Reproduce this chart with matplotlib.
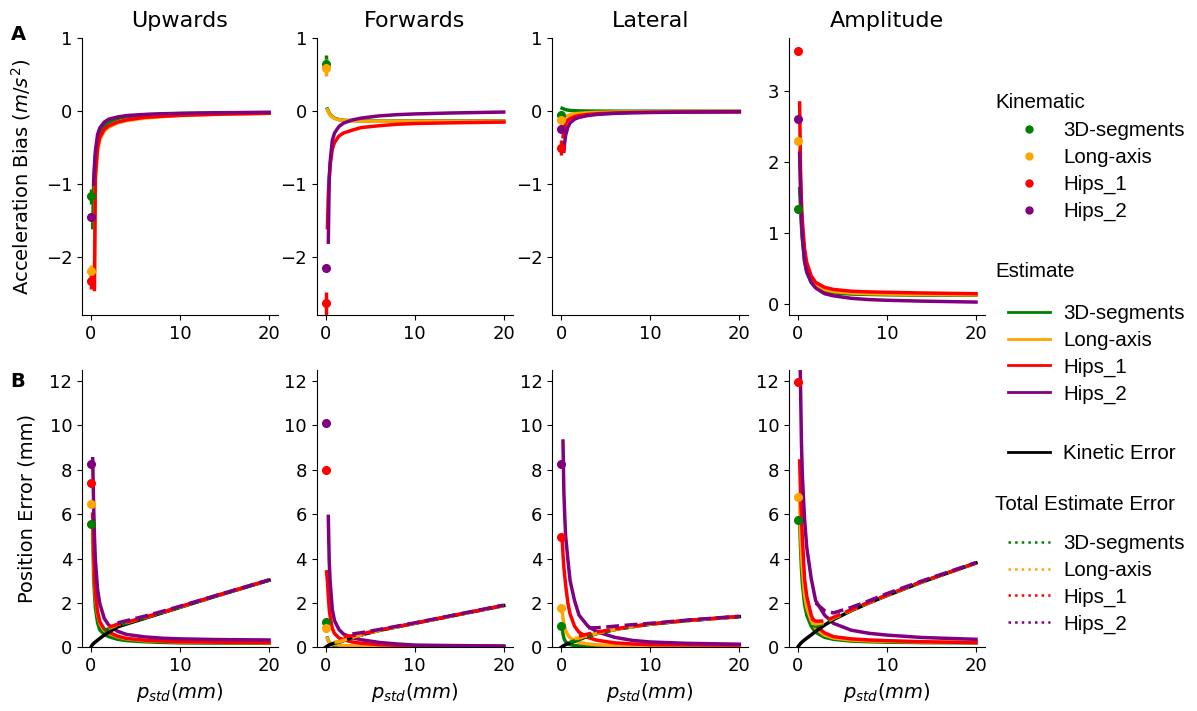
import matplotlib.pyplot as plt
from matplotlib.lines import Line2D
import numpy as np

nan = np.nan

directions = ["Upwards", "Forwards", "Lateral", "Amplitude"]
models = ["3D-segments", "Long-axis", "Hips_1", "Hips_2"]
colors = ["green", "orange", "red", "purple"]

# p_std grid (mm) on which the curves were read
x_grid = [0, 0.1, 0.2, 0.3, 0.4, 0.5, 0.75, 1, 1.5, 2, 3, 4, 6, 8, 10, 14, 20]

# ---- row A: acceleration bias (m/s^2), rows = 3D-segments, Long-axis, Hips_1, Hips_2
bias_up = [
    [nan, nan, -1.6, -1.05, -0.8, -0.62, -0.4, -0.3, -0.2, -0.15, -0.1, -0.075, -0.05, -0.04, -0.032, -0.025, -0.02],
    [nan, nan, nan, nan, -2.2, -0.95, -0.54, -0.39, -0.27, -0.22, -0.16, -0.13, -0.095, -0.075, -0.06, -0.045, -0.03],
    [nan, nan, nan, nan, -2.45, -0.9, -0.5, -0.36, -0.25, -0.2, -0.15, -0.12, -0.085, -0.07, -0.057, -0.042, -0.028],
    [nan, nan, nan, -1.0, -0.75, -0.55, -0.32, -0.23, -0.15, -0.11, -0.08, -0.06, -0.045, -0.035, -0.03, -0.022, -0.015],
]
bias_fw = [
    [nan, nan, 0.03, 0.0, -0.025, -0.045, -0.075, -0.095, -0.115, -0.125, -0.13, -0.133, -0.135, -0.135, -0.135, -0.135, -0.135],
    [nan, nan, 0.02, -0.01, -0.035, -0.055, -0.08, -0.1, -0.118, -0.127, -0.133, -0.136, -0.138, -0.139, -0.14, -0.14, -0.14],
    [nan, nan, -1.6, -1.15, -0.92, -0.75, -0.52, -0.43, -0.34, -0.3, -0.26, -0.225, -0.2, -0.18, -0.17, -0.16, -0.15],
    [nan, nan, nan, -1.8, -0.95, -0.7, -0.4, -0.3, -0.21, -0.165, -0.12, -0.095, -0.065, -0.048, -0.038, -0.025, -0.012],
]
bias_lat = [
    [nan, 0.04, 0.035, 0.03, 0.025, 0.02, 0.015, 0.01, 0.006, 0.004, 0.002, 0.001, 0.0, 0.0, 0.0, 0.0, 0.0],
    [nan, -0.15, -0.12, -0.1, -0.085, -0.075, -0.06, -0.05, -0.037, -0.03, -0.022, -0.017, -0.012, -0.009, -0.007, -0.005, -0.004],
    [nan, nan, -0.35, -0.26, -0.21, -0.17, -0.12, -0.1, -0.075, -0.06, -0.045, -0.035, -0.025, -0.018, -0.015, -0.01, -0.007],
    [nan, nan, nan, -0.55, -0.42, -0.33, -0.22, -0.16, -0.11, -0.085, -0.06, -0.045, -0.03, -0.022, -0.018, -0.013, -0.01],
]
bias_amp = [
    [nan, nan, 1.62, 1.35, 1.1, 0.92, 0.6, 0.44, 0.3, 0.23, 0.17, 0.15, 0.135, 0.13, 0.125, 0.12, 0.12],
    [nan, nan, 2.15, 1.7, 1.3, 1.05, 0.7, 0.5, 0.34, 0.27, 0.2, 0.17, 0.15, 0.14, 0.135, 0.13, 0.125],
    [nan, nan, 2.83, 1.9, 1.45, 1.18, 0.78, 0.58, 0.39, 0.3, 0.23, 0.2, 0.175, 0.165, 0.16, 0.15, 0.14],
    [nan, nan, 2.12, 1.6, 1.2, 0.95, 0.6, 0.45, 0.3, 0.22, 0.14, 0.11, 0.075, 0.057, 0.047, 0.035, 0.022],
]

# kinematic values at p_std = 0 (mean, error)
kin_bias_up = [-1.17, -2.2, -2.33, -1.46]
kin_bias_up_err = [0.1, 0.08, 0.12, 0.04]
kin_bias_fw = [0.655, 0.6, -2.64, -2.15]
kin_bias_fw_err = [0.12, 0.12, 0.16, 0.03]
kin_bias_lat = [-0.055, -0.12, -0.5, -0.25]
kin_bias_lat_err = [0.05, 0.05, 0.1, 0.04]
kin_bias_amp = [1.34, 2.29, 3.56, 2.61]
kin_bias_amp_err = [0.02, 0.02, 0.02, 0.02]

# ---- row B: position error (mm)
pos_up = [
    [nan, nan, 5.5, 3.3, 2.4, 1.8, 1.1, 0.78, 0.58, 0.48, 0.36, 0.3, 0.25, 0.22, 0.2, 0.19, 0.18],
    [nan, nan, 5.6, 4.0, 3.0, 2.3, 1.5, 1.08, 0.77, 0.64, 0.47, 0.38, 0.3, 0.27, 0.24, 0.22, 0.2],
    [nan, nan, 6.0, 4.3, 3.2, 2.44, 1.6, 1.15, 0.82, 0.68, 0.5, 0.4, 0.32, 0.28, 0.25, 0.23, 0.21],
    [nan, nan, 8.5, 6.5, 5.0, 3.95, 2.6, 1.97, 1.3, 1.0, 0.72, 0.58, 0.47, 0.41, 0.38, 0.35, 0.33],
]
pos_fw = [
    [nan, nan, 0.42, 0.3, 0.22, 0.17, 0.11, 0.08, 0.06, 0.05, 0.04, 0.035, 0.03, 0.027, 0.025, 0.022, 0.02],
    [nan, nan, 0.4, 0.3, 0.24, 0.2, 0.15, 0.13, 0.1, 0.08, 0.06, 0.05, 0.04, 0.036, 0.033, 0.03, 0.03],
    [nan, 3.4, 3.0, 2.3, 1.75, 1.4, 0.85, 0.62, 0.42, 0.34, 0.24, 0.18, 0.12, 0.09, 0.07, 0.05, 0.04],
    [nan, nan, nan, 5.9, 3.9, 3.0, 1.7, 1.2, 0.8, 0.6, 0.43, 0.34, 0.22, 0.15, 0.1, 0.08, 0.06],
]
pos_lat = [
    [nan, 0.95, 0.6, 0.42, 0.32, 0.25, 0.17, 0.12, 0.08, 0.06, 0.045, 0.04, 0.035, 0.033, 0.032, 0.03, 0.03],
    [nan, 1.7, 1.3, 1.05, 0.9, 0.75, 0.55, 0.43, 0.3, 0.22, 0.15, 0.11, 0.08, 0.07, 0.06, 0.055, 0.05],
    [nan, 4.95, 4.2, 3.6, 3.2, 2.8, 2.0, 1.5, 0.95, 0.68, 0.44, 0.32, 0.2, 0.15, 0.12, 0.11, 0.1],
    [nan, nan, 9.3, 7.0, 5.9, 5.0, 3.95, 3.0, 2.1, 1.45, 0.95, 0.7, 0.45, 0.31, 0.24, 0.18, 0.14],
]
pos_amp = [
    [nan, nan, 5.7, 4.5, 3.6, 2.9, 1.95, 1.45, 0.95, 0.68, 0.45, 0.36, 0.28, 0.25, 0.23, 0.21, 0.2],
    [nan, nan, 6.6, 5.3, 4.3, 3.6, 2.4, 1.8, 1.2, 0.85, 0.55, 0.42, 0.33, 0.29, 0.27, 0.24, 0.22],
    [nan, nan, 8.4, 7.0, 5.9, 5.0, 3.1, 2.3, 1.45, 0.98, 0.65, 0.48, 0.38, 0.33, 0.3, 0.25, 0.21],
    [nan, nan, 14.0, 11.8, 9.3, 7.8, 5.8, 4.5, 3.1, 2.1, 1.45, 1.08, 0.77, 0.63, 0.55, 0.44, 0.36],
]

# kinetic error (mm)
kinetic_up = [0, 0.08, 0.13, 0.17, 0.21, 0.24, 0.32, 0.4, 0.55, 0.68, 0.92, 1.05, 1.3, 1.55, 1.8, 2.3, 3.02]
kinetic_fw = [0, 0.03, 0.06, 0.08, 0.1, 0.12, 0.16, 0.19, 0.23, 0.3, 0.44, 0.56, 0.76, 0.92, 1.08, 1.4, 1.88]
kinetic_lat = [0, 0.03, 0.06, 0.08, 0.1, 0.12, 0.16, 0.2, 0.27, 0.35, 0.5, 0.62, 0.8, 0.93, 1.04, 1.2, 1.38]
kinetic_amp = [0, 0.07, 0.12, 0.17, 0.21, 0.25, 0.33, 0.41, 0.56, 0.72, 1.0, 1.25, 1.65, 2.0, 2.33, 2.95, 3.8]

# total estimate error (mm)
total_up = [
    [nan, nan, nan, nan, nan, nan, nan, nan, 0.78, 0.83, 0.99, 1.09, 1.33, 1.57, 1.81, 2.31, 3.03],
    [nan, nan, nan, nan, nan, nan, nan, nan, nan, 0.86, 1.03, 1.12, 1.34, 1.58, 1.82, 2.32, 3.03],
    [nan, nan, nan, nan, nan, nan, nan, nan, nan, 0.9, 1.04, 1.13, 1.35, 1.58, 1.83, 2.32, 3.03],
    [nan, nan, nan, nan, nan, nan, nan, nan, nan, nan, 1.1, 1.2, 1.4, 1.62, 1.85, 2.33, 3.04],
]
total_fw = [
    [nan, nan, nan, nan, nan, nan, nan, 0.21, 0.24, 0.3, 0.44, 0.56, 0.76, 0.92, 1.08, 1.4, 1.88],
    [nan, nan, nan, nan, nan, nan, nan, 0.23, 0.25, 0.31, 0.45, 0.56, 0.76, 0.92, 1.08, 1.4, 1.88],
    [nan, nan, nan, nan, nan, nan, nan, nan, nan, 0.48, 0.52, 0.6, 0.78, 0.93, 1.09, 1.41, 1.89],
    [nan, nan, nan, nan, nan, nan, nan, nan, nan, nan, 0.6, 0.66, 0.8, 0.95, 1.1, 1.42, 1.9],
]
total_lat = [
    [nan, nan, nan, nan, nan, nan, nan, 0.23, 0.29, 0.36, 0.5, 0.62, 0.8, 0.93, 1.04, 1.2, 1.38],
    [nan, nan, nan, nan, nan, nan, nan, nan, 0.4, 0.42, 0.52, 0.63, 0.8, 0.93, 1.04, 1.2, 1.38],
    [nan, nan, nan, nan, nan, nan, nan, nan, nan, 0.5, 0.6, 0.68, 0.83, 0.95, 1.05, 1.21, 1.39],
    [nan, nan, nan, nan, nan, nan, nan, nan, nan, nan, 0.88, 0.88, 0.95, 1.02, 1.08, 1.22, 1.4],
]
total_amp = [
    [nan, nan, nan, nan, nan, nan, nan, nan, 1.0, 0.95, 1.08, 1.3, 1.67, 2.02, 2.34, 2.96, 3.8],
    [nan, nan, nan, nan, nan, nan, nan, nan, 1.1, 1.05, 1.12, 1.32, 1.68, 2.02, 2.35, 2.96, 3.8],
    [nan, nan, nan, nan, nan, nan, nan, nan, 1.3, 1.18, 1.18, 1.35, 1.7, 2.04, 2.36, 2.97, 3.8],
    [nan, nan, nan, nan, nan, nan, nan, nan, nan, 2.0, 1.65, 1.55, 1.8, 2.1, 2.42, 3.0, 3.82],
]

kin_pos_up = [5.56, 6.48, 7.41, 8.28]
kin_pos_fw = [1.13, 0.86, 7.97, 10.09]
kin_pos_lat = [0.98, 1.76, 4.95, 8.27]
kin_pos_amp = [5.75, 6.78, 11.96, 13.6]
kin_pos_err = [0.08, 0.08, 0.12, 0.08]

bias_sets = [bias_up, bias_fw, bias_lat, bias_amp]
kin_bias_sets = [(kin_bias_up, kin_bias_up_err), (kin_bias_fw, kin_bias_fw_err),
                 (kin_bias_lat, kin_bias_lat_err), (kin_bias_amp, kin_bias_amp_err)]
pos_sets = [pos_up, pos_fw, pos_lat, pos_amp]
kinetic_sets = [kinetic_up, kinetic_fw, kinetic_lat, kinetic_amp]
total_sets = [total_up, total_fw, total_lat, total_amp]
kin_pos_sets = [kin_pos_up, kin_pos_fw, kin_pos_lat, kin_pos_amp]

plt.rcParams['font.size'] = 13
plt.rcParams['axes.spines.top'] = False
plt.rcParams['axes.spines.right'] = False

fig = plt.figure(figsize=(11.97, 7.11), dpi=100)
lefts = [0.0685, 0.2646, 0.4614, 0.6591]
width = 0.1637
LW = 2.5

for i, name in enumerate(directions):
    # acceleration bias
    ax = fig.add_axes([lefts[i], 0.557, width, 0.389])
    vals, errs = kin_bias_sets[i]
    for j in range(4):
        ax.errorbar(0, vals[j], yerr=errs[j], fmt='o', color=colors[j], ms=5.5, elinewidth=2.5)
    for j in range(4):
        ax.plot(x_grid, bias_sets[i][j], color=colors[j], lw=LW)
    ax.set_title(name, fontsize=16, pad=8)
    ax.set_xlim(-1, 21)
    ax.set_xticks([0, 10, 20])
    if name == "Amplitude":
        ax.set_ylim(-0.16, 3.74)
        ax.set_yticks([0, 1, 2, 3])
    else:
        ax.set_ylim(-2.8, 1.0)
        ax.set_yticks([-2, -1, 0, 1])
    if i == 0:
        ax.set_ylabel('Acceleration Bias ($m/s^2$)', fontsize=14, labelpad=9)

    # position error
    ax = fig.add_axes([lefts[i], 0.0896, width, 0.39])
    for j in range(4):
        ax.errorbar(0, kin_pos_sets[i][j], yerr=kin_pos_err[j], fmt='o', color=colors[j], ms=5.5, elinewidth=2.5)
    for j in range(4):
        ax.plot(x_grid, pos_sets[i][j], color=colors[j], lw=LW)
    ax.plot(x_grid, kinetic_sets[i], color='black', lw=LW)
    for j in range(4):
        ax.plot(x_grid, total_sets[i][j], color=colors[j], lw=LW, ls='--')
    ax.set_xlim(-1, 21)
    ax.set_xticks([0, 10, 20])
    ax.set_ylim(0, 12.5)
    ax.set_yticks([0, 2, 4, 6, 8, 10, 12])
    ax.set_xlabel('$p_{std}(mm)$', fontsize=14)
    if i == 0:
        ax.set_ylabel('Position Error (mm)', fontsize=14, labelpad=9)

fig.text(18 / 1197, 1 - 35 / 711, 'A', fontsize=14, weight='bold', ha='center', va='center')
fig.text(18 / 1197, 1 - 382 / 711, 'B', fontsize=14, weight='bold', ha='center', va='center')

# legends on the right
leg_font = {'family': 'Liberation Sans', 'size': 14.8}
leg_kw = dict(loc='upper left', frameon=False, borderpad=0, borderaxespad=0,
              handlelength=2.05, handletextpad=0.63, labelspacing=0.38, prop=leg_font)
leg_x = 1008 / 1197

kin_handles = [Line2D([], [], marker='o', ls='', color=c, ms=5) for c in colors]
est_handles = [Line2D([], [], color=c, lw=2) for c in colors]
tot_handles = [Line2D([], [], color=c, lw=1.8, ls=':') for c in colors]

fig.legend(kin_handles, models, bbox_to_anchor=(leg_x, 1 - 121.5 / 711), **leg_kw)
fig.legend(est_handles, models, bbox_to_anchor=(leg_x, 1 - 304 / 711), **leg_kw)
fig.legend([Line2D([], [], color='black', lw=2)], ['Kinetic Error'],
           bbox_to_anchor=(leg_x, 1 - 444.5 / 711), **leg_kw)
fig.legend(tot_handles, models, bbox_to_anchor=(leg_x, 1 - 534 / 711), **leg_kw)

for label, yc in [('Kinematic', 103), ('Estimate', 272), ('Total Estimate Error', 505)]:
    fig.text(995 / 1197, 1 - yc / 711, label, fontdict=leg_font, ha='left', va='center')

fig.savefig('out.png', dpi=100)
